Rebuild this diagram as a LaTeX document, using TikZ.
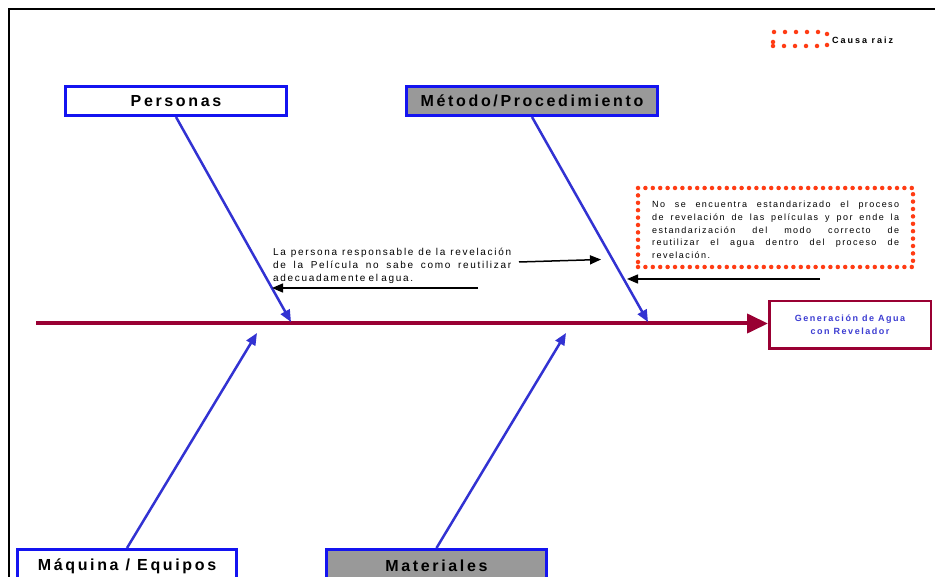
\documentclass[tikz,border=0pt]{standalone}
\usepackage{fontspec}
\setmainfont{Liberation Sans}
\newfontfamily\lblfont[LetterSpace=16.5]{Liberation Sans}
\newfontfamily\effont[LetterSpace=17]{Liberation Sans}
\newfontfamily\legfont[LetterSpace=22]{Liberation Sans}
\newfontfamily\annfont[LetterSpace=17]{Liberation Sans}
\newfontfamily\rootfont[LetterSpace=16]{Liberation Sans}
\newcommand{\js}{\hfill\ }
\usetikzlibrary{arrows.meta}
\definecolor{boxblue}{RGB}{20,20,240}
\definecolor{branchblue}{RGB}{50,50,210}
\definecolor{spinecol}{RGB}{153,0,51}
\definecolor{effblue}{RGB}{60,60,210}
\definecolor{dotred}{RGB}{255,60,20}
\definecolor{boxgray}{RGB}{153,153,153}
\begin{document}
\begin{tikzpicture}[x=1pt,y=-1pt,
  catbox/.style={draw=boxblue, line width=3pt, minimum height=29pt, inner sep=0pt,
    font={\lblfont\bfseries\fontsize{16}{19}\selectfont}},
  graybox/.style={catbox, fill=boxgray},
  effbox/.style={draw=spinecol, line width=2.5pt, minimum width=161.5pt, minimum height=47.5pt,
    inner sep=0pt, align=center, text=effblue, font={\effont\bfseries\fontsize{9}{13}\selectfont}},
  branch/.style={draw=branchblue, line width=2.5pt, -{Triangle[length=12pt,width=10pt]}},
  spineline/.style={draw=spinecol, line width=4pt, -{Triangle[length=21pt,width=19pt]}},
  blackarrow/.style={draw=black, line width=1.5pt, -{Triangle[length=11pt,width=9pt]}},
  dotsbig/.style={draw=dotred, line width=4.5pt, line cap=round, dash pattern=on 0pt off 7.4pt, inner sep=0pt},
  dotssmall/.style={draw=dotred, line width=4.5pt, line cap=round, dash pattern=on 0pt off 11pt, inner sep=0pt},
  anntext/.style={anchor=north west, inner sep=0pt, text width=238pt, align=left,
    font={\annfont\fontsize{10}{13.3}\selectfont}},
  roottext/.style={anchor=north west, inner sep=0pt, text width=247pt, align=left,
    font={\rootfont\fontsize{9}{12.65}\selectfont}},
  legtext/.style={anchor=west, inner sep=0pt, font={\legfont\bfseries\fontsize{9}{11}\selectfont}}
]
\useasboundingbox (0,0) rectangle (935,577);
\fill[white] (0,0) rectangle (935,577);
% frame
\draw[line width=2.2pt] (9,590) -- (9,9) -- (945,9);

% category boxes
\node[catbox, minimum width=221pt] (personas) at (176,101) {Personas};
\node[graybox, minimum width=251pt] (metodo) at (532,101) {Método/Procedimiento};
\node[catbox, minimum width=219pt, minimum height=33pt] (maquina) at (127,566) {Máquina / Equipos};
\node[graybox, minimum width=220pt, minimum height=33pt] (materiales) at (436.5,566) {Materiales};

% effect
\node[effbox] (efecto) at (850,325) {Generación de Agua\\con Revelador};

% spine
\coordinate (spS) at (36,323.5);
\draw[spineline] (spS) -- (spS -| efecto.west);

% branch tips
\coordinate (tP) at (291,322);
\coordinate (tM) at (648,322);
\coordinate (tQ) at (257,333);
\coordinate (tR) at (566,333);
\draw[branch] (personas.south) -- (tP);
\draw[branch] (metodo.south) -- (tM);
\draw[branch] (maquina.north) -- (tQ);
\draw[branch] (materiales.north) -- (tR);

% annotation
\node[anntext] (annA) at (273,247.5) {%
\hbox to 238pt{La\js persona\js responsable\js de\js la\js revelación}
\hbox to 238pt{de\js la\js Película\js no\js sabe\js como\js reutilizar}
\hbox{adecuadamente el agua.}};
\coordinate (a1s) at (519,262);
\coordinate (a1e) at (601,259.5);
\draw[blackarrow] (a1s) -- (a1e);
\coordinate (a2s) at (478,288);
\coordinate (a2e) at (272,288);
\draw[blackarrow] (a2s) -- (a2e);

% root cause box
\node[dotsbig, minimum width=275pt, minimum height=79pt] (rootbox) at (775.5,227.5) {};
\node[roottext] (roottxt) at (652,201) {%
\hbox to 247pt{No\js se\js encuentra\js estandarizado\js el\js proceso}
\hbox to 247pt{de\js revelación\js de\js las\js películas\js y\js por\js ende\js la}
\hbox to 247pt{estandarización\js del\js modo\js correcto\js de}
\hbox to 247pt{reutilizar\js el\js agua\js dentro\js del\js proceso\js de}
\hbox{revelación.}};
\coordinate (a3s) at (820,279);
\coordinate (a3e) at (627,279);
\draw[blackarrow] (a3s) -- (a3e);

% legend
\node[dotssmall, minimum width=54pt, minimum height=14pt] (legbox) at (800,39) {};
\node[legtext] (legtxt) at (832,40) {Causa raiz};
\end{tikzpicture}
\end{document}
